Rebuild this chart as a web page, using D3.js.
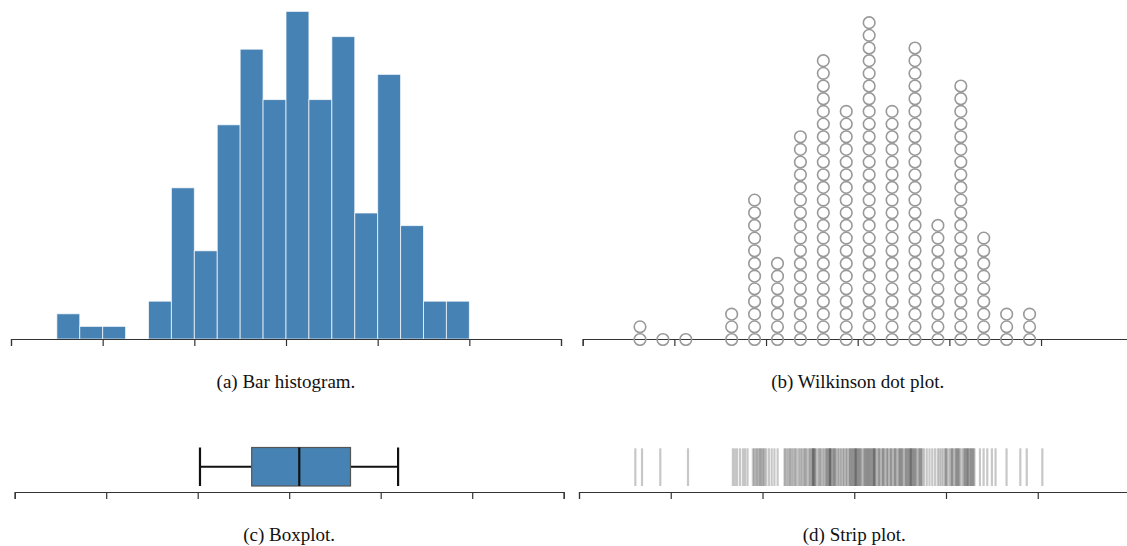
<!DOCTYPE html>
<html><head><meta charset="utf-8">
<script src="https://cdn.jsdelivr.net/npm/d3@7"></script>
<style>
body{margin:0;background:#fff}
svg{display:block}
text{font-family:"Liberation Serif","Times New Roman",serif}
</style>
</head><body>
<svg id="c" width="1127" height="546"></svg>
<script>
// ---- data (axis units: 0..6) ----
const axisTicks = [0, 1, 2, 3, 4, 5, 6];
const binStarts = [0.5, 0.75, 1.0, 1.25, 1.5, 1.75, 2.0, 2.25, 2.5, 2.75, 3.0, 3.25, 3.5, 3.75, 4.0, 4.25, 4.5, 4.75];
const binCounts = [2, 1, 1, 0, 3, 12, 7, 17, 23, 19, 26, 19, 24, 10, 21, 9, 3, 3];
const binWidth = 0.25;
// boxplot: 10th pct, Q1, median, Q3, 90th pct
const boxStats = [2.025, 2.59, 3.11, 3.67, 4.19];
const stripValues = [
  0.614, 0.687, 0.886, 1.188,
  1.677, 1.700, 1.723, 1.755, 1.787, 1.810, 1.837,
  1.895, 1.91, 1.925, 1.94, 1.955, 1.97, 1.98, 1.995,
  2.01, 2.02, 2.04, 2.07, 2.10, 2.13, 2.165,
  2.24, 2.25, 2.27, 2.285, 2.30, 2.315, 2.33, 2.35, 2.36, 2.38, 2.40, 2.415, 2.43, 2.45, 2.46, 2.475, 2.49,
  2.51, 2.52, 2.535, 2.545, 2.55, 2.555, 2.565, 2.57, 2.58, 2.60, 2.615, 2.63, 2.64, 2.66, 2.675, 2.69, 2.70, 2.71, 2.72, 2.73, 2.735, 2.74, 2.745,
  2.76, 2.77, 2.78, 2.79, 2.80, 2.82, 2.83, 2.85, 2.86, 2.88, 2.89, 2.91, 2.92, 2.94, 2.95, 2.96, 2.97, 2.98, 2.99,
  3.00, 3.01, 3.015, 3.02, 3.03, 3.04, 3.05, 3.06, 3.07, 3.08, 3.10, 3.11, 3.12, 3.13, 3.14, 3.15, 3.16, 3.17, 3.18, 3.19, 3.20, 3.21, 3.215, 3.22, 3.23, 3.24,
  3.26, 3.27, 3.28, 3.30, 3.31, 3.32, 3.33, 3.35, 3.36, 3.37, 3.39, 3.40, 3.41, 3.43, 3.44, 3.45, 3.46, 3.48, 3.49,
  3.50, 3.51, 3.52, 3.53, 3.55, 3.56, 3.57, 3.58, 3.59, 3.60, 3.61, 3.615, 3.62, 3.63, 3.64, 3.65, 3.66, 3.67, 3.68, 3.70, 3.71, 3.72, 3.73, 3.74,
  3.76, 3.79, 3.82, 3.85, 3.88, 3.91, 3.93, 3.95, 3.97, 3.99,
  4.00, 4.01, 4.03, 4.05, 4.06, 4.07, 4.08, 4.10, 4.11, 4.12, 4.13, 4.14, 4.15, 4.17, 4.19, 4.20, 4.21, 4.22, 4.23, 4.24, 4.245,
  4.26, 4.27, 4.28, 4.29, 4.30, 4.31, 4.37, 4.41, 4.45,
  4.50, 4.54, 4.66,
  4.81, 4.88, 5.05
];
const captions = ["(a) Bar histogram.", "(b) Wilkinson dot plot.", "(c) Boxplot.", "(d) Strip plot."];

// ---- drawing ----
const svg = d3.select("#c");
const axisColor = "#333";

function drawAxis(scale, y) {
  const g = svg.append("g").attr("transform", `translate(0,${y})`)
    .call(d3.axisBottom(scale).tickValues(axisTicks).tickFormat("").tickSize(7).tickSizeOuter(7));
  g.selectAll("path,line").attr("stroke", axisColor).attr("stroke-width", 1.2);
  return g;
}

// (a) histogram
const xa = d3.scaleLinear().domain([0, 6]).range([11, 561]);
const ya = d3.scaleLinear().domain([0, 26]).range([339, 11.4]);
svg.append("g").selectAll("rect").data(binCounts.map((c, i) => ({x0: binStarts[i], c})).filter(d => d.c > 0))
  .join("rect")
  .attr("x", d => xa(d.x0))
  .attr("width", d => xa(d.x0 + binWidth) - xa(d.x0))
  .attr("y", d => ya(d.c))
  .attr("height", d => ya(0) - ya(d.c))
  .attr("fill", "#4682b4")
  .attr("stroke", "#fff").attr("stroke-opacity", 0.7).attr("stroke-width", 1);
drawAxis(xa, 339);

// (b) Wilkinson dot plot
const xb = d3.scaleLinear().domain([0, 6]).range([582.7, 1132.7]);
const yb = d3.scaleLinear().domain([0, 26]).range([339.5, 10]);
const dots = [];
binCounts.forEach((c, i) => { for (let k = 0; k < c; k++) dots.push({x: binStarts[i] + binWidth / 2, k}); });
drawAxis(xb, 339);
svg.append("g").selectAll("circle").data(dots).join("circle")
  .attr("cx", d => xb(d.x))
  .attr("cy", d => yb(d.k))
  .attr("r", 5.8)
  .attr("fill", "none")
  .attr("stroke", "#999")
  .attr("stroke-width", 1.6);

// (c) boxplot
const xc = d3.scaleLinear().domain([0, 6]).range([14.7, 563.7]);
const boxTop = 447.5, boxBot = 486, boxMid = (boxTop + boxBot) / 2;
const gc = svg.append("g");
gc.append("line").attr("x1", xc(boxStats[0])).attr("x2", xc(boxStats[1])).attr("y1", boxMid).attr("y2", boxMid);
gc.append("line").attr("x1", xc(boxStats[3])).attr("x2", xc(boxStats[4])).attr("y1", boxMid).attr("y2", boxMid);
gc.append("line").attr("x1", xc(boxStats[0])).attr("x2", xc(boxStats[0])).attr("y1", boxTop).attr("y2", boxBot);
gc.append("line").attr("x1", xc(boxStats[4])).attr("x2", xc(boxStats[4])).attr("y1", boxTop).attr("y2", boxBot);
gc.selectAll("line").attr("stroke", "#111").attr("stroke-width", 2.2);
gc.append("rect").attr("x", xc(boxStats[1])).attr("width", xc(boxStats[3]) - xc(boxStats[1]))
  .attr("y", boxTop).attr("height", boxBot - boxTop)
  .attr("fill", "#4682b4").attr("stroke", "#555").attr("stroke-width", 1.2);
gc.append("line").attr("x1", xc(boxStats[2])).attr("x2", xc(boxStats[2])).attr("y1", boxTop).attr("y2", boxBot)
  .attr("stroke", "#111").attr("stroke-width", 2.2);
drawAxis(xc, 492);

// (d) strip plot
const xd = d3.scaleLinear().domain([0, 6]).range([579, 1129.5]);
svg.append("g").selectAll("line").data(stripValues).join("line")
  .attr("x1", d => xd(d)).attr("x2", d => xd(d))
  .attr("y1", 448.3).attr("y2", 486)
  .attr("stroke", "#000").attr("stroke-opacity", 0.22).attr("stroke-width", 2.2);
drawAxis(xd, 492);

// captions
const capPos = [[xa(3), 388], [xb(3), 388], [xc(3), 541], [xd(3), 541]];
svg.append("g").selectAll("text").data(captions).join("text")
  .attr("x", (d, i) => capPos[i][0]).attr("y", (d, i) => capPos[i][1])
  .attr("text-anchor", "middle").attr("font-size", 19).attr("fill", "#111")
  .text(d => d);
</script>
</body></html>
